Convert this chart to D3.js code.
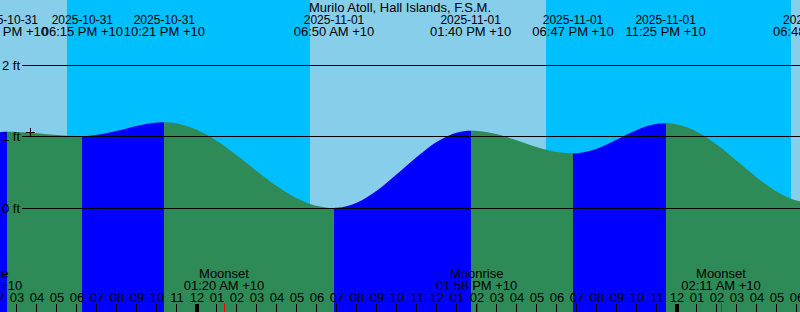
<!DOCTYPE html>
<html>
<head>
<meta charset="utf-8">
<script src="https://cdn.jsdelivr.net/npm/d3@7"></script>
<style>
body { margin: 0; background: #fff; }
svg { display: block; font-family: "Liberation Sans", Arial, sans-serif; }
</style>
</head>
<body>
<svg id="plot" width="800" height="312"></svg>
<script>
var title = "Murilo Atoll, Hall Islands, F.S.M.";
var viewStart = "2025-10-31 14:08",
    viewEnd = "2025-11-02 06:08";

// night = sunset .. sunrise
var nightStarts = ["2025-10-31 17:28", "2025-11-01 17:27"];
var nightEnds = ["2025-11-01 05:38", "2025-11-02 05:40"];

// high / low tides
var tideTimes = ["2025-10-31 14:30", "2025-10-31 18:15", "2025-10-31 22:21", "2025-11-01 06:50",
                 "2025-11-01 13:40", "2025-11-01 18:47", "2025-11-01 23:25", "2025-11-02 06:48"];
var tideHeights = [1.065, 1.005, 1.20, 0.0, 1.08, 0.765, 1.185, 0.07];
var tideTypes = ["high", "low", "high", "low", "high", "low", "high", "low"];

// water level on the hour, starting 2025-10-31 14:00
var hourlyStart = "2025-10-31 14:00";
var hourlyHeights = [1.058, 1.064, 1.047, 1.021, 1.006, 1.025, 1.079, 1.151, 1.196, 1.183,
                     1.09, 0.934, 0.731, 0.51, 0.30, 0.133, 0.028, 0.002, 0.076, 0.247,
                     0.478, 0.72, 0.929, 1.055, 1.077, 1.03, 0.944, 0.85, 0.783, 0.767,
                     0.833, 0.961, 1.095, 1.177, 1.168, 1.063, 0.881, 0.653, 0.421, 0.225,
                     0.102, 0.071];

var moonTimes = ["2025-10-31 13:13", "2025-11-01 01:20", "2025-11-01 13:58", "2025-11-02 02:11"];
var moonEvents = ["Moonrise", "Moonset", "Moonrise", "Moonset"];

var nowTime = "2025-10-31 15:39", nowHeight = 1.06;

var levelTicks = [0, 1, 2];

var parse = d3.utcParse("%Y-%m-%d %H:%M"),
    fmtDate = d3.utcFormat("%Y-%m-%d"),
    fmtTime = d3.utcFormat("%I:%M %p"),
    fmtHour = d3.utcFormat("%I");

var svg = d3.select("#plot"),
    width = +svg.attr("width"),
    height = +svg.attr("height");

var x = d3.scaleUtc()
  .domain([parse(viewStart), parse(viewEnd)])
  .range([0, width]);

var y = d3.scaleLinear()
  .domain([0, 2])
  .range([208, 65]);

// sky: day then night bands
svg.append("rect")
  .attr("width", width).attr("height", height)
  .attr("fill", "#87ceeb");

svg.selectAll(".night")
  .data(nightStarts)
  .enter().append("rect")
  .attr("class", "night")
  .attr("x", function (d) { return Math.round(x(parse(d))); })
  .attr("y", 0)
  .attr("width", function (d, i) { return Math.round(x(parse(nightEnds[i]))) - Math.round(x(parse(d))); })
  .attr("height", height)
  .attr("fill", "#00bfff");

// tide curve data
var t0 = parse(hourlyStart);
var pts = hourlyHeights.map(function (v, i) {
  return {t: d3.utcHour.offset(t0, i), v: v};
});
tideTimes.forEach(function (d, i) {
  pts.push({t: parse(d), v: tideHeights[i]});
});
pts.sort(function (a, b) { return a.t - b.t; });

var area = d3.area()
  .x(function (d) { return x(d.t); })
  .y0(height)
  .y1(function (d) { return y(d.v); })
  .curve(d3.curveMonotoneX);

// rising = blue, falling = green
var edges = [parse(viewStart)].concat(tideTimes.map(parse)).concat([parse(viewEnd)]);
var segs = [];
for (var i = 0; i < edges.length - 1; i++) {
  var type = i < tideTypes.length ? tideTypes[i] : (tideTypes[tideTypes.length - 1] == "high" ? "low" : "high");
  segs.push({a: edges[i], b: edges[i + 1], fill: type == "high" ? "#0000ff" : "#2e8b57"});
}
segs = segs.filter(function (s) { return s.a < s.b && x(s.a) < width; });

var defs = svg.append("defs");
segs.forEach(function (s, i) {
  defs.append("clipPath").attr("id", "seg" + i)
    .append("rect")
    .attr("x", Math.round(x(s.a)))
    .attr("y", 0)
    .attr("width", Math.round(Math.min(x(s.b), width + 20)) - Math.round(x(s.a)))
    .attr("height", height);
  svg.append("path")
    .datum(pts)
    .attr("clip-path", "url(#seg" + i + ")")
    .attr("fill", s.fill)
    .attr("d", area);
});

// level lines
svg.selectAll(".level")
  .data(levelTicks)
  .enter().append("line")
  .attr("x1", 22).attr("x2", width)
  .attr("y1", function (d) { return Math.floor(y(d)) + 0.5; })
  .attr("y2", function (d) { return Math.floor(y(d)) + 0.5; })
  .attr("stroke", "#000");

svg.selectAll(".levelLabel")
  .data(levelTicks)
  .enter().append("text")
  .attr("x", 2)
  .attr("y", function (d) { return Math.floor(y(d)) + 5; })
  .style("font-size", "13px")
  .text(function (d) { return d + " ft"; });

// now marker
var nx = Math.round(x(parse(nowTime))) + 0.5, ny = Math.round(y(nowHeight)) + 0.5;
svg.append("path")
  .attr("d", "M" + (nx - 4.5) + "," + ny + "H" + (nx + 4.5) + "M" + nx + "," + (ny - 4.5) + "V" + (ny + 4.5))
  .attr("stroke", "#000");

// title and tide labels
svg.append("text")
  .attr("x", width / 2).attr("y", 12)
  .attr("text-anchor", "middle")
  .style("font-size", "13px")
  .text(title);

var tl = svg.selectAll(".tideLabel")
  .data(tideTimes)
  .enter().append("text")
  .attr("text-anchor", "middle");
tl.append("tspan")
  .attr("x", function (d) { return x(parse(d)); })
  .attr("y", 24)
  .style("font-size", "12px")
  .text(function (d) { return fmtDate(parse(d)); });
tl.append("tspan")
  .attr("x", function (d) { return x(parse(d)); })
  .attr("y", 36)
  .style("font-size", "13px")
  .text(function (d) { return fmtTime(parse(d)) + " +10"; });

// moon labels
var ml = svg.selectAll(".moonLabel")
  .data(moonTimes)
  .enter().append("text")
  .attr("text-anchor", "middle")
  .style("font-size", "13px");
ml.append("tspan")
  .attr("x", function (d) { return x(parse(d)); })
  .attr("y", 278)
  .text(function (d, i) { return moonEvents[i]; });
ml.append("tspan")
  .attr("x", function (d) { return x(parse(d)); })
  .attr("y", 290)
  .text(function (d) { return fmtTime(parse(d)) + " +10"; });

// hour ticks
var hours = d3.utcHour.range(d3.utcHour.floor(parse(viewStart)), parse(viewEnd));
svg.selectAll(".hourLabel")
  .data(hours)
  .enter().append("text")
  .attr("x", function (d) { return Math.round(x(d)); })
  .attr("y", 302)
  .attr("text-anchor", "middle")
  .style("font-size", "13px")
  .text(function (d) { return fmtHour(d); });

svg.selectAll(".hourTick")
  .data(hours)
  .enter().append("line")
  .attr("x1", function (d) { return Math.round(x(d)) - (d.getUTCHours() == 0 ? 0 : 0.5); })
  .attr("x2", function (d) { return Math.round(x(d)) - (d.getUTCHours() == 0 ? 0 : 0.5); })
  .attr("y1", 304).attr("y2", height)
  .attr("stroke", "#000")
  .attr("stroke-width", function (d) { return d.getUTCHours() == 0 ? 4 : 1; });

svg.selectAll(".moonTick")
  .data(moonTimes)
  .enter().append("line")
  .attr("x1", function (d) { return Math.round(x(parse(d))) + 0.5; })
  .attr("x2", function (d) { return Math.round(x(parse(d))) + 0.5; })
  .attr("y1", 303).attr("y2", height)
  .attr("stroke", "#ff0000");
</script>
</body>
</html>
